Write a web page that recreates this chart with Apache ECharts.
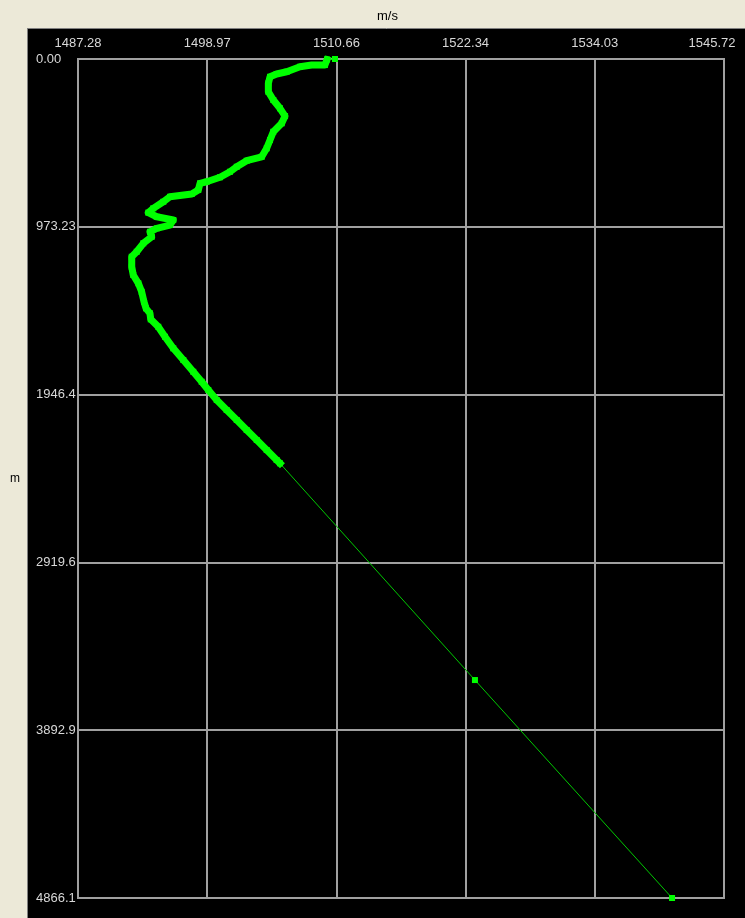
<!DOCTYPE html>
<html>
<head>
<meta charset="utf-8">
<script src="https://cdn.jsdelivr.net/npm/echarts@6/dist/echarts.min.js"></script>
<style>
html,body{margin:0;padding:0;background:#ECE9D8;}
#chart{width:745px;height:918px;}
</style>
</head>
<body>
<div id="chart"></div>
<script>
// Sound speed profile (m/s) versus depth (m)
var speed = [1510.53, 1509.81, 1509.62, 1508.42, 1507.36, 1506.16, 1505.25, 1504.65, 1504.50, 1504.50,
  1504.95, 1505.55, 1506.01, 1505.71, 1504.95, 1504.65, 1504.35, 1503.90, 1502.54, 1501.64,
  1501.03, 1500.13, 1498.92, 1498.32, 1498.16, 1497.57, 1495.60, 1495.00, 1494.09, 1493.64,
  1494.40, 1495.90, 1495.60, 1494.40, 1493.79, 1493.95, 1493.19, 1492.59, 1492.14, 1492.14,
  1492.28, 1492.74, 1493.04, 1493.25, 1493.43, 1493.79, 1493.86, 1494.54, 1495.15, 1495.90,
  1496.81, 1497.71, 1498.47, 1499.07, 1499.83, 1500.73, 1501.64, 1502.54, 1503.45, 1504.35,
  1505.25, 1505.55, 1523.19, 1541.02];
var depth = [0, 3, 35, 35, 45, 74, 87, 103, 141, 190,
  238, 286, 331, 373, 422, 470, 518, 567, 590, 625,
  654, 686, 712, 721, 760, 783, 799, 828, 866, 891,
  915, 934, 963, 982, 1002, 1031, 1069, 1118, 1147, 1205,
  1253, 1301, 1350, 1408, 1446, 1475, 1510, 1553, 1611, 1678,
  1746, 1814, 1872, 1920, 1978, 2036, 2094, 2152, 2210, 2268,
  2326, 2345, 3602, 4866];
// dense measured section (drawn thick) : indices from denseStart to denseEnd
var denseStart = 1, denseEnd = 61;

var xMin = 1487.28, xMax = 1545.72, xStep = 11.688;
var yMin = 0, yMax = 4866.14, yStep = 973.228;
var xTitle = 'm/s', yTitle = 'm';

var allPts = speed.map(function (v, i) { return [v, depth[i]]; });
var densePts = allPts.slice(denseStart, denseEnd + 1);

var txt = '#d8d8d8', gridCol = '#a0a0a0';
var FONT = 'Liberation Sans, Arial, sans-serif';
var chart = echarts.init(document.getElementById('chart'), null, {renderer: 'canvas'});
chart.setOption({
  backgroundColor: '#ECE9D8',
  animation: false,
  title: {
    text: xTitle, left: 372, top: 5,
    textStyle: {color: '#000', fontSize: 13, fontWeight: 'normal', fontFamily: FONT}
  },
  graphic: [{
    type: 'rect', z: -10, silent: true,
    shape: {x: 28, y: 29, width: 717, height: 889},
    style: {fill: '#000000'}
  }, {
    type: 'line', z: -9, silent: true,
    shape: {x1: 28, y1: 28.5, x2: 745, y2: 28.5},
    style: {stroke: '#808080', lineWidth: 1}
  }, {
    type: 'line', z: -9, silent: true,
    shape: {x1: 27.5, y1: 28, x2: 27.5, y2: 918},
    style: {stroke: '#808080', lineWidth: 1}
  }],
  grid: {
    left: 78, top: 59, width: 646, height: 839,
    show: true, borderColor: gridCol, borderWidth: 2, backgroundColor: 'transparent'
  },
  xAxis: {
    type: 'value', position: 'top',
    min: xMin, max: xMax, interval: xStep,
    axisLine: {show: false}, axisTick: {show: false},
    splitLine: {show: true, lineStyle: {color: gridCol, width: 2}},
    axisLabel: {
      color: txt, fontSize: 13, margin: 9, fontFamily: FONT,
      formatter: function (v) {
        var s = v.toFixed(2);
        return Math.abs(v - xMax) < 1e-6 ? '{r|' + s + '}' : s;
      },
      rich: {r: {color: txt, fontSize: 13, fontFamily: FONT, padding: [0, 24, 0, 0]}}
    }
  },
  yAxis: {
    type: 'value', inverse: true,
    min: yMin, max: yMax, interval: yStep,
    name: yTitle, nameLocation: 'middle', nameRotate: 0, nameGap: 58,
    nameTextStyle: {color: '#000', fontSize: 12, fontFamily: FONT},
    axisLine: {show: false}, axisTick: {show: false},
    splitLine: {show: true, lineStyle: {color: gridCol, width: 2}},
    axisLabel: {
      color: txt, fontSize: 13, margin: 42, align: 'left',
      width: 42, overflow: 'truncate', ellipsis: '', fontFamily: FONT,
      formatter: function (v) { return v.toFixed(2); }
    }
  },
  series: [
    {
      type: 'line', data: allPts, z: 2,
      showSymbol: true, showAllSymbol: true,
      symbol: 'rect', symbolSize: 6,
      itemStyle: {color: '#00ff00'},
      lineStyle: {color: '#00c800', width: 1}
    },
    {
      type: 'line', data: densePts, z: 3,
      showSymbol: false,
      lineStyle: {color: '#00ff00', width: 7, cap: 'square', join: 'round'}
    }
  ]
});
</script>
</body>
</html>
